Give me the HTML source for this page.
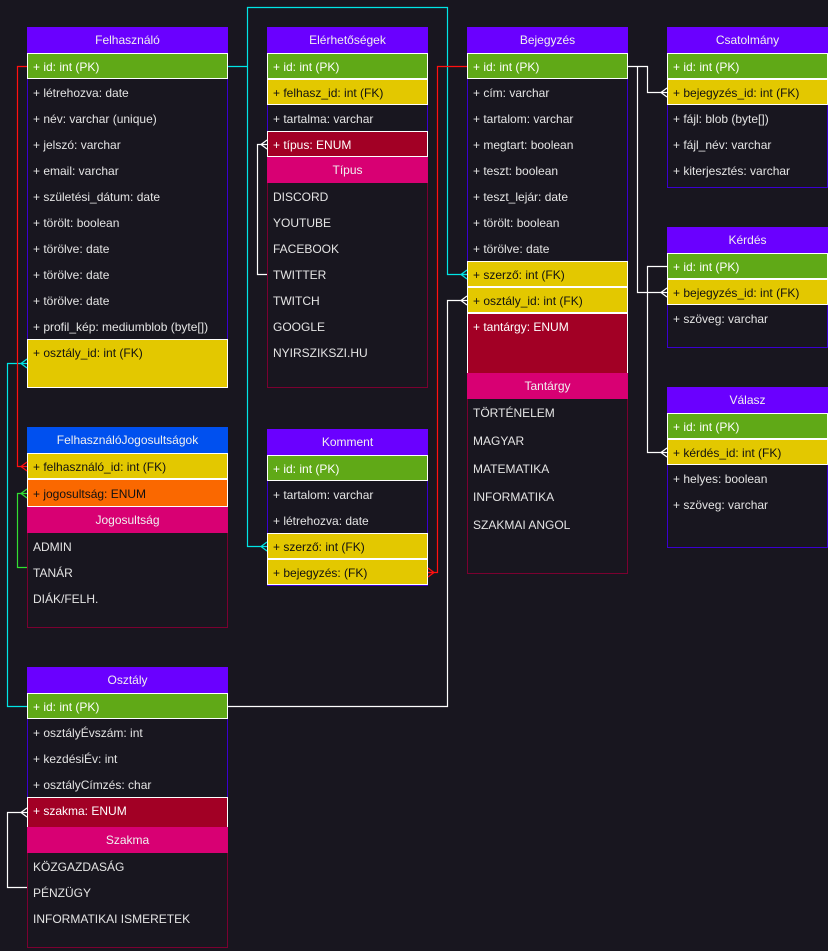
<!DOCTYPE html>
<html><head><meta charset="utf-8"><style>
*{margin:0;padding:0;box-sizing:border-box}
body{width:828px;height:951px;background:#18161f;position:relative;overflow:hidden;font-family:"Liberation Sans",sans-serif;font-size:12px;color:#e4e4e4}
div{position:absolute}
.t{border:1px solid #3a00d0}
.e{border:1px solid #7a0030}
.h{background:#6a00ff;color:#f0f0f0;text-align:center;line-height:26px;height:26px}
.r{padding-left:6px;padding-top:1px;line-height:26px;height:26px;white-space:nowrap}
.g{background:#60a917;border:1px solid #fff;color:#fff;line-height:24px;padding-left:5px}
.y{background:#e3c800;border:1px solid #fff;color:#111;line-height:24px;padding-left:5px}
.d{background:#a20025;border:1px solid #fff;color:#fff;line-height:24px;padding-left:5px}
.m{background:#d80073;color:#f0f0f0;text-align:center;line-height:26px;height:26px}
svg{position:absolute;left:0;top:0}
</style></head><body>

<!-- Felhasználó -->
<div class="t" style="left:27px;top:27px;width:201px;height:361px"></div>
<div class="h" style="left:27px;top:27px;width:201px">Felhasználó</div>
<div class="r g" style="left:27px;top:53px;width:201px">+ id: int (PK)</div>
<div class="r" style="left:27px;top:79px">+ létrehozva: date</div>
<div class="r" style="left:27px;top:105px">+ név: varchar (unique)</div>
<div class="r" style="left:27px;top:131px">+ jelszó: varchar</div>
<div class="r" style="left:27px;top:157px">+ email: varchar</div>
<div class="r" style="left:27px;top:183px">+ születési_dátum: date</div>
<div class="r" style="left:27px;top:209px">+ törölt: boolean</div>
<div class="r" style="left:27px;top:235px">+ törölve: date</div>
<div class="r" style="left:27px;top:261px">+ törölve: date</div>
<div class="r" style="left:27px;top:287px">+ törölve: date</div>
<div class="r" style="left:27px;top:313px">+ profil_kép: mediumblob (byte[])</div>
<div class="r y" style="left:27px;top:339px;width:201px;height:49px">+ osztály_id: int (FK)</div>

<!-- Elérhetőségek -->
<div class="t" style="left:267px;top:27px;width:161px;height:110px"></div>
<div class="e" style="left:267px;top:131px;width:161px;height:257px"></div>
<div class="h" style="left:267px;top:27px;width:161px">Elérhetőségek</div>
<div class="r g" style="left:267px;top:53px;width:161px">+ id: int (PK)</div>
<div class="r y" style="left:267px;top:79px;width:161px">+ felhasz_id: int (FK)</div>
<div class="r" style="left:267px;top:105px">+ tartalma: varchar</div>
<div class="r d" style="left:267px;top:131px;width:161px">+ típus: ENUM</div>
<div class="m" style="left:267px;top:157px;width:161px">Típus</div>
<div class="r" style="left:267px;top:183px">DISCORD</div>
<div class="r" style="left:267px;top:209px">YOUTUBE</div>
<div class="r" style="left:267px;top:235px">FACEBOOK</div>
<div class="r" style="left:267px;top:261px">TWITTER</div>
<div class="r" style="left:267px;top:287px">TWITCH</div>
<div class="r" style="left:267px;top:313px">GOOGLE</div>
<div class="r" style="left:267px;top:339px">NYIRSZIKSZI.HU</div>

<!-- Bejegyzés -->
<div class="t" style="left:467px;top:27px;width:161px;height:290px"></div>
<div class="e" style="left:467px;top:313px;width:161px;height:261px"></div>
<div class="h" style="left:467px;top:27px;width:161px">Bejegyzés</div>
<div class="r g" style="left:467px;top:53px;width:161px">+ id: int (PK)</div>
<div class="r" style="left:467px;top:79px">+ cím: varchar</div>
<div class="r" style="left:467px;top:105px">+ tartalom: varchar</div>
<div class="r" style="left:467px;top:131px">+ megtart: boolean</div>
<div class="r" style="left:467px;top:157px">+ teszt: boolean</div>
<div class="r" style="left:467px;top:183px">+ teszt_lejár: date</div>
<div class="r" style="left:467px;top:209px">+ törölt: boolean</div>
<div class="r" style="left:467px;top:235px">+ törölve: date</div>
<div class="r y" style="left:467px;top:261px;width:161px">+ szerző: int (FK)</div>
<div class="r y" style="left:467px;top:287px;width:161px">+ osztály_id: int (FK)</div>
<div class="r d" style="left:467px;top:313px;width:161px;height:61px">+ tantárgy: ENUM</div>
<div class="m" style="left:467px;top:373px;width:161px">Tantárgy</div>
<div class="r" style="left:467px;top:399px">TÖRTÉNELEM</div>
<div class="r" style="left:467px;top:427px">MAGYAR</div>
<div class="r" style="left:467px;top:455px">MATEMATIKA</div>
<div class="r" style="left:467px;top:483px">INFORMATIKA</div>
<div class="r" style="left:467px;top:511px">SZAKMAI ANGOL</div>

<!-- Csatolmány -->
<div class="t" style="left:667px;top:27px;width:161px;height:161px"></div>
<div class="h" style="left:667px;top:27px;width:161px">Csatolmány</div>
<div class="r g" style="left:667px;top:53px;width:161px">+ id: int (PK)</div>
<div class="r y" style="left:667px;top:79px;width:161px">+ bejegyzés_id: int (FK)</div>
<div class="r" style="left:667px;top:105px">+ fájl: blob (byte[])</div>
<div class="r" style="left:667px;top:131px">+ fájl_név: varchar</div>
<div class="r" style="left:667px;top:157px">+ kiterjesztés: varchar</div>

<!-- Kérdés -->
<div class="t" style="left:667px;top:227px;width:161px;height:121px"></div>
<div class="h" style="left:667px;top:227px;width:161px">Kérdés</div>
<div class="r g" style="left:667px;top:253px;width:161px">+ id: int (PK)</div>
<div class="r y" style="left:667px;top:279px;width:161px">+ bejegyzés_id: int (FK)</div>
<div class="r" style="left:667px;top:305px">+ szöveg: varchar</div>

<!-- Válasz -->
<div class="t" style="left:667px;top:387px;width:161px;height:161px"></div>
<div class="h" style="left:667px;top:387px;width:161px">Válasz</div>
<div class="r g" style="left:667px;top:413px;width:161px">+ id: int (PK)</div>
<div class="r y" style="left:667px;top:439px;width:161px">+ kérdés_id: int (FK)</div>
<div class="r" style="left:667px;top:465px">+ helyes: boolean</div>
<div class="r" style="left:667px;top:491px">+ szöveg: varchar</div>

<!-- FelhasználóJogosultságok -->
<div class="e" style="left:27px;top:427px;width:201px;height:201px"></div>
<div class="h" style="left:27px;top:427px;width:201px;background:#0050ef">FelhasználóJogosultságok</div>
<div class="r y" style="left:27px;top:453px;width:201px">+ felhasználó_id: int (FK)</div>
<div class="r y" style="left:27px;top:479px;width:201px;height:28px;background:#fa6800;line-height:26px">+ jogosultság: ENUM</div>
<div class="m" style="left:27px;top:507px;width:201px">Jogosultság</div>
<div class="r" style="left:27px;top:533px">ADMIN</div>
<div class="r" style="left:27px;top:559px">TANÁR</div>
<div class="r" style="left:27px;top:585px">DIÁK/FELH.</div>

<!-- Komment -->
<div class="t" style="left:267px;top:429px;width:161px;height:157px"></div>
<div class="h" style="left:267px;top:429px;width:161px">Komment</div>
<div class="r g" style="left:267px;top:455px;width:161px">+ id: int (PK)</div>
<div class="r" style="left:267px;top:481px">+ tartalom: varchar</div>
<div class="r" style="left:267px;top:507px">+ létrehozva: date</div>
<div class="r y" style="left:267px;top:533px;width:161px">+ szerző: int (FK)</div>
<div class="r y" style="left:267px;top:559px;width:161px">+ bejegyzés: (FK)</div>

<!-- Osztály -->
<div class="t" style="left:27px;top:667px;width:201px;height:135px"></div>
<div class="e" style="left:27px;top:797px;width:201px;height:151px"></div>
<div class="h" style="left:27px;top:667px;width:201px">Osztály</div>
<div class="r g" style="left:27px;top:693px;width:201px">+ id: int (PK)</div>
<div class="r" style="left:27px;top:719px">+ osztályÉvszám: int</div>
<div class="r" style="left:27px;top:745px">+ kezdésiÉv: int</div>
<div class="r" style="left:27px;top:771px">+ osztályCímzés: char</div>
<div class="r d" style="left:27px;top:797px;width:201px;height:31px">+ szakma: ENUM</div>
<div class="m" style="left:27px;top:827px;width:201px">Szakma</div>
<div class="r" style="left:27px;top:853px">KÖZGAZDASÁG</div>
<div class="r" style="left:27px;top:879px">PÉNZÜGY</div>
<div class="r" style="left:27px;top:905px">INFORMATIKAI ISMERETEK</div>

<svg width="828" height="951" fill="none" stroke-width="1.2">
<path d="M228 66.5H247.5V7.5H447.5V274.5H467M247.5 66.5V546.5H267" stroke="#00e5e5"/>
<path d="M461 274.5L467 270M461 274.5L467 274.5M461 274.5L467 279M261 546.5L267 542M261 546.5L267 551" stroke="#00e5e5"/>
<path d="M27 706.5H7.5V363.5H27" stroke="#00e5e5"/>
<path d="M21 363.5L27 359M21 363.5L27 368" stroke="#00e5e5"/>
<path d="M228 706.5H447.5V300.5H467" stroke="#fff"/>
<path d="M461 300.5L467 296M461 300.5L467 305" stroke="#fff"/>
<path d="M27 66.5H17.5V466.5H27" stroke="#ff1010"/>
<path d="M21 466.5L27 462M21 466.5L27 471" stroke="#ff1010"/>
<path d="M27 567.5H17.5V493.5H27" stroke="#33dd33"/>
<path d="M21 493.5L27 489M21 493.5L27 498" stroke="#33dd33"/>
<path d="M27 887.5H7.5V812.5H27" stroke="#fff"/>
<path d="M21 812.5L27 808M21 812.5L27 817" stroke="#fff"/>
<path d="M267 274.5H257.5V144.5H267" stroke="#fff"/>
<path d="M261 144.5L267 140M261 144.5L267 149" stroke="#fff"/>
<path d="M467 66.5H437.5V572.5H428" stroke="#ff1010"/>
<path d="M434 572.5L428 568M434 572.5L428 577M434 572.5L428 572.5" stroke="#ff1010"/>
<path d="M628 66.5H647.5V92.5H667M637.5 66.5V292.5H667M667 266.5H647.5V452.5H667" stroke="#fff"/>
<path d="M661 92.5L667 88M661 92.5L667 97M661 292.5L667 288M661 292.5L667 297M661 452.5L667 448M661 452.5L667 457" stroke="#fff"/>
</svg>
</body></html>
